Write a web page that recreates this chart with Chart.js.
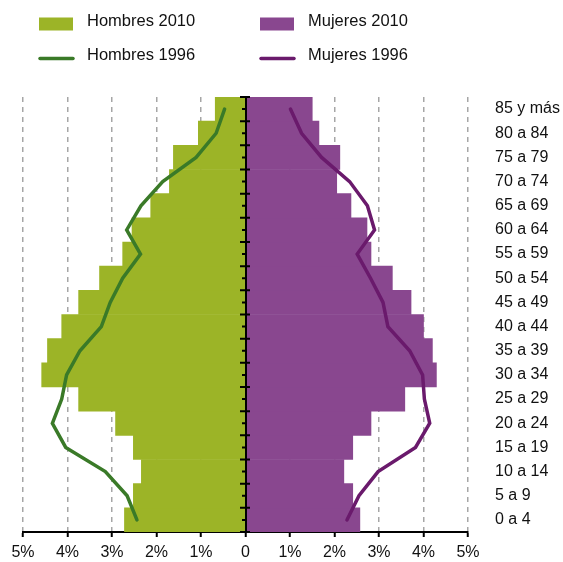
<!DOCTYPE html>
<html>
<head>
<meta charset="utf-8">
<script src="https://cdn.jsdelivr.net/npm/chart.js@4"></script>
<style>
    html, body { margin: 0; padding: 0; background: #fff; }
    #contenedor { width: 563px; height: 562px; }
</style>
</head>
<body>
<div id="contenedor"><canvas id="piramide"></canvas></div>
<script>
// Grupos de edad (de abajo hacia arriba)
const grupos = ['0 a 4', '5 a 9', '10 a 14', '15 a 19', '20 a 24', '25 a 29', '30 a 34', '35 a 39', '40 a 44',
    '45 a 49', '50 a 54', '55 a 59', '60 a 64', '65 a 69', '70 a 74', '75 a 79', '80 a 84', '85 y más'];

// Porcentaje de la población total
const hombres2010 = [2.72, 2.52, 2.34, 2.52, 2.92, 3.75, 4.58, 4.45, 4.13, 3.75, 3.28, 2.76, 2.55, 2.13, 1.71, 1.62, 1.06, 0.68];
const mujeres2010 = [2.57, 2.41, 2.21, 2.41, 2.82, 3.58, 4.29, 4.20, 4.00, 3.72, 3.30, 2.82, 2.73, 2.37, 2.05, 2.12, 1.65, 1.50];
const hombres1996 = [2.44, 2.66, 3.15, 4.04, 4.34, 4.13, 4.02, 3.72, 3.24, 3.04, 2.76, 2.36, 2.67, 2.35, 1.86, 1.11, 0.66, 0.47];
const mujeres1996 = [2.28, 2.55, 2.98, 3.82, 4.14, 4.02, 3.98, 3.69, 3.20, 3.09, 2.81, 2.51, 2.90, 2.74, 2.34, 1.71, 1.26, 1.01];

// Etiquetas del eje horizontal (de -5 a 5)
const etiquetasX = ['5%', '4%', '3%', '2%', '1%', '0', '1%', '2%', '3%', '4%', '5%'];

const fuente = "'Liberation Sans', Arial, sans-serif";
const colores = {
    h2010: '#9cb427',
    m2010: '#89478f',
    h1996: '#3a7a28',
    m1996: '#6a1a6c'
};

// Eje central con marcas
const ejeCentral = {
    id: 'ejeCentral',
    afterDatasetsDraw(chart) {
        const { ctx, chartArea, scales: { x, y } } = chart;
        const x0 = Math.round(x.getPixelForValue(0));
        const paso = Math.abs(y.getPixelForValue(1) - y.getPixelForValue(0));
        ctx.save();
        ctx.strokeStyle = '#000';
        ctx.lineWidth = 2;
        ctx.beginPath();
        ctx.moveTo(x0, chartArea.top);
        ctx.lineTo(x0, chartArea.bottom);
        grupos.forEach((g, i) => {
            const yc = y.getPixelForValue(i);
            ctx.moveTo(x0 - 4, yc);
            ctx.lineTo(x0 + 1, yc);
            ctx.moveTo(x0 - 6, yc - paso / 2);
            ctx.lineTo(x0 + 4, yc - paso / 2);
        });
        ctx.moveTo(x0 - 6, y.getPixelForValue(0) + paso / 2);
        ctx.lineTo(x0 + 4, y.getPixelForValue(0) + paso / 2);
        ctx.stroke();
        ctx.restore();
    }
};

// Leyenda en dos columnas
const leyenda = {
    id: 'leyenda',
    afterDraw(chart) {
        const ctx = chart.ctx;
        const items = [
            { texto: 'Hombres 2010', color: colores.h2010, tipo: 'caja', x: 39, y: 24 },
            { texto: 'Mujeres 2010', color: colores.m2010, tipo: 'caja', x: 260, y: 24 },
            { texto: 'Hombres 1996', color: colores.h1996, tipo: 'linea', x: 39, y: 58.5 },
            { texto: 'Mujeres 1996', color: colores.m1996, tipo: 'linea', x: 260, y: 58.5 }
        ];
        ctx.save();
        items.forEach(it => {
            if (it.tipo === 'caja') {
                ctx.fillStyle = it.color;
                ctx.fillRect(it.x, it.y - 6.5, 34, 13);
            } else {
                ctx.strokeStyle = it.color;
                ctx.lineWidth = 3.5;
                ctx.lineCap = 'round';
                ctx.beginPath();
                ctx.moveTo(it.x + 1, it.y);
                ctx.lineTo(it.x + 34, it.y);
                ctx.stroke();
            }
            ctx.fillStyle = '#111';
            ctx.font = '16.5px ' + fuente;
            ctx.textBaseline = 'middle';
            ctx.textAlign = 'left';
            ctx.fillText(it.texto, it.x + 48, it.y - 3);
        });
        ctx.restore();
    }
};

const ctx = document.getElementById('piramide').getContext('2d');
new Chart(ctx, {
    type: 'bar',
    data: {
        labels: grupos,
        datasets: [
            {
                type: 'line',
                label: 'Hombres 1996',
                data: hombres1996.map(v => -v),
                borderColor: colores.h1996,
                borderWidth: 3.5,
                borderCapStyle: 'round',
                pointRadius: 0,
                fill: false,
                tension: 0,
                order: 0
            },
            {
                type: 'line',
                label: 'Mujeres 1996',
                data: mujeres1996,
                borderColor: colores.m1996,
                borderWidth: 3.5,
                borderCapStyle: 'round',
                pointRadius: 0,
                fill: false,
                tension: 0,
                order: 0
            },
            {
                label: 'Hombres 2010',
                data: hombres2010.map(v => -v),
                backgroundColor: colores.h2010,
                grouped: false,
                barPercentage: 1,
                categoryPercentage: 1,
                order: 1
            },
            {
                label: 'Mujeres 2010',
                data: mujeres2010,
                backgroundColor: colores.m2010,
                grouped: false,
                barPercentage: 1,
                categoryPercentage: 1,
                order: 1
            }
        ]
    },
    options: {
        indexAxis: 'y',
        responsive: true,
        maintainAspectRatio: false,
        animation: false,
        layout: {
            padding: { top: 97, left: 23, right: 0, bottom: 0 }
        },
        plugins: {
            legend: { display: false },
            tooltip: { enabled: false }
        },
        scales: {
            x: {
                type: 'linear',
                min: -5,
                max: 5,
                afterFit: scale => { scale.height = 30; },
                ticks: {
                    stepSize: 1,
                    color: '#111',
                    padding: 6,
                    font: { family: fuente, size: 16 },
                    callback: v => etiquetasX[Math.round(v) + 5]
                },
                grid: {
                    color: c => (c.tick && c.tick.value === 0) ? 'rgba(0,0,0,0)' : '#a6a6a6',
                    lineWidth: 1.5,
                    tickColor: '#000',
                    tickWidth: 2,
                    tickLength: 5,
                    tickBorderDash: []
                },
                border: {
                    display: true,
                    color: '#000',
                    width: 2,
                    dash: [5, 5]
                }
            },
            y: {
                type: 'category',
                position: 'right',
                reverse: true,
                offset: true,
                afterFit: scale => { scale.width = 95; },
                ticks: {
                    autoSkip: false,
                    color: '#111',
                    padding: 19,
                    font: { family: fuente, size: 16 }
                },
                grid: { display: false },
                border: { display: false }
            }
        }
    },
    plugins: [ejeCentral, leyenda]
});
</script>
</body>
</html>
